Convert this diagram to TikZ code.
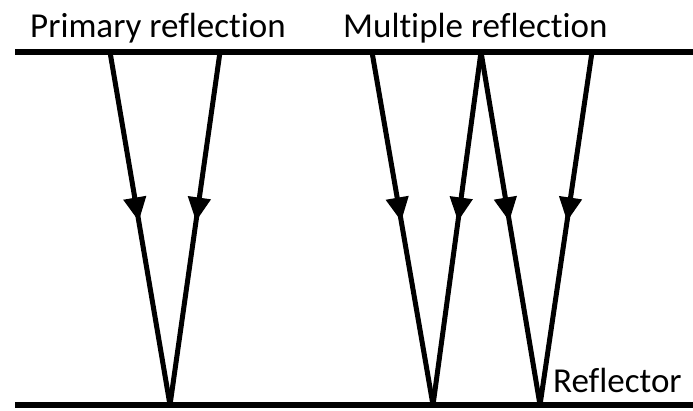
\documentclass[tikz,border=0pt]{standalone}
\usepackage{fontspec}
\setmainfont{Carlito}[Ligatures=NoCommon]
\usetikzlibrary{arrows.meta,decorations.markings}

\tikzset{
    surface/.style={line width=6pt},
    ray/.style={line width=5pt, postaction={decorate},
        decoration={markings, mark=at position 0.48 with {\arrow{Triangle[length=24pt,width=22pt]}}}},
    caption/.style={anchor=base west, inner sep=0pt, font=\fontsize{35}{40}\selectfont}
}

\begin{document}
\begin{tikzpicture}[x=1pt,y=-1pt]
            \useasboundingbox (0,0) rectangle (693,410);
            % Nodes
            \coordinate (top_left) at (15,52);
            \coordinate (top_right) at (693,52);
            \coordinate (bottom_left) at (15,405);
            \coordinate (bottom_right) at (693,405);

            \coordinate (primary_in) at (110,52);
            \coordinate (primary_hit) at (170,405);
            \coordinate (primary_out) at (220,52);

            \coordinate (multiple_in) at (372,52);
            \coordinate (multiple_hit1) at (433,405);
            \coordinate (multiple_bounce) at (481,52);
            \coordinate (multiple_hit2) at (540,405);
            \coordinate (multiple_out) at (592,52);

            \node[caption] (primary_label) at (30,37) {Primary reflection};
            \node[caption] (multiple_label) at (343,37) {Multiple reflection};
            \node[caption] (reflector_label) at (553,392) {Reflector};

            % Surfaces
            \draw[surface] (top_left) -- (top_right);
            \draw[surface] (bottom_left) -- (bottom_right);

            % Arrows
            \draw[ray] (primary_in) -- (primary_hit);
            \draw[ray] (primary_out) -- (primary_hit);
            \draw[ray] (multiple_in) -- (multiple_hit1);
            \draw[ray] (multiple_bounce) -- (multiple_hit1);
            \draw[ray] (multiple_bounce) -- (multiple_hit2);
            \draw[ray] (multiple_out) -- (multiple_hit2);
        \end{tikzpicture}
\end{document}
